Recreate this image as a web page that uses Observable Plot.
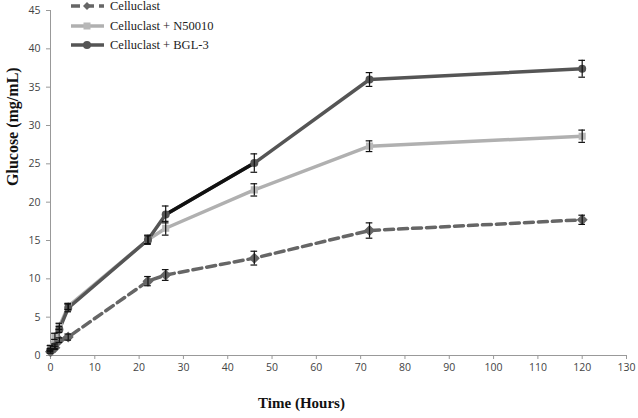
<!DOCTYPE html>
<html>
<head>
<meta charset="utf-8">
<script src="https://cdn.jsdelivr.net/npm/d3@7"></script>
<script src="https://cdn.jsdelivr.net/npm/@observablehq/plot@0.6"></script>
<style>
  html, body { margin: 0; padding: 0; background: #fff; }
  #wrap { position: relative; width: 638px; height: 418px; }
  #legend { position: absolute; left: 70px; top: 0px; font-family: "Liberation Serif", "Times New Roman", serif; font-size: 12.5px; color: #222; }
  .row { position: absolute; left: 0; height: 14px; white-space: nowrap; }
  .row svg { position: absolute; left: 0; top: 0; }
  .row span { position: absolute; left: 40px; top: 0px; line-height: 14px; }
</style>
</head>
<body>
<div id="wrap"></div>
<script>
const hours = [0, 1, 2, 4, 22, 26, 46, 72, 120];
const seriesNames = ["Celluclast", "Celluclast + N50010", "Celluclast + BGL-3"];
const celluclast    = [0.5, 1.0, 2.0, 2.4, 9.7, 10.5, 12.7, 16.3, 17.7];
const celluclastErr = [0.2, 0.2, 0.3, 0.4, 0.6, 0.7, 0.9, 1.0, 0.6];
const n50010        = [1.0, 2.5, 3.8, 6.4, 15.1, 16.6, 21.6, 27.3, 28.6];
const n50010Err     = [0.3, 0.4, 0.4, 0.4, 0.5, 0.9, 0.8, 0.7, 0.8];
const bgl3          = [0.7, 1.2, 3.4, 6.2, 15.1, 18.4, 25.1, 36.0, 37.4];
const bgl3Err       = [0.2, 0.3, 0.4, 0.5, 0.6, 1.1, 1.2, 0.9, 1.1];
const xTicks = d3.range(0, 131, 10);
const yTicks = d3.range(0, 46, 5);

const mk = (vals, errs, name) => hours.map((t, i) => ({t, v: vals[i], e: errs[i], name}));
const dC = mk(celluclast, celluclastErr, seriesNames[0]);
const dN = mk(n50010, n50010Err, seriesNames[1]);
const dB = mk(bgl3, bgl3Err, seriesNames[2]);
const all = [...dC, ...dN, ...dB];
const blackSeg = dB.filter(d => d.t >= 26 && d.t <= 46);

const tickFont = {fontFamily: "'Open Sans', 'Liberation Sans', sans-serif", fontSize: 10.5, fill: "#444"};
const capHalf = 0.75;

const chart = Plot.plot({
  width: 638,
  height: 418,
  marginLeft: 50,
  marginRight: 12,
  marginTop: 10,
  marginBottom: 63,
  style: {background: "#fff"},
  x: {domain: [0, 130]},
  y: {domain: [0, 45]},
  marks: [
    Plot.ruleY([0], {stroke: "#999", strokeWidth: 1}),
    Plot.ruleX([0], {stroke: "#999", strokeWidth: 1}),
    Plot.axisX({ticks: xTicks, tickSize: 4, stroke: "#999", tickPadding: 4, label: null, ...tickFont, color: "#444"}),
    Plot.axisY({ticks: yTicks, tickSize: 4, stroke: "#999", tickPadding: 6, label: null, ...tickFont, color: "#444"}),
    Plot.text(["Time (Hours)"], {frameAnchor: "bottom", dx: -37, dy: 52, fontFamily: "'Liberation Serif', serif", fontWeight: "bold", fontSize: 15, fill: "#111"}),
    Plot.text(["Glucose (mg/mL)"], {frameAnchor: "left", dx: -38, dy: 3, rotate: -90, fontFamily: "'Liberation Serif', serif", fontWeight: "bold", fontSize: 16, fill: "#111"}),
    Plot.line(dC, {x: "t", y: "v", stroke: "#666", strokeWidth: 3.5, strokeDasharray: "9,5"}),
    Plot.line(dN, {x: "t", y: "v", stroke: "#b0b0b0", strokeWidth: 3.5}),
    Plot.line(dB, {x: "t", y: "v", stroke: "#555", strokeWidth: 3.5}),
    Plot.line(blackSeg, {x: "t", y: "v", stroke: "#111", strokeWidth: 3.5}),
    Plot.dot(dC, {x: "t", y: "v", symbol: "diamond2", r: 4, fill: "#666", stroke: "#666"}),
    Plot.dot(dN, {x: "t", y: "v", symbol: "square2", r: 3.6, fill: "#b8b8b8", stroke: "#b8b8b8"}),
    Plot.dot(dB, {x: "t", y: "v", symbol: "circle", r: 4, fill: "#555"}),
    Plot.ruleX(all, {x: "t", y1: d => d.v - d.e, y2: d => d.v + d.e, stroke: "#111", strokeWidth: 1.2}),
    Plot.ruleY(all, {y: d => d.v - d.e, x1: d => d.t - capHalf, x2: d => d.t + capHalf, stroke: "#111", strokeWidth: 1.2}),
    Plot.ruleY(all, {y: d => d.v + d.e, x1: d => d.t - capHalf, x2: d => d.t + capHalf, stroke: "#111", strokeWidth: 1.2})
  ]
});

const wrap = document.getElementById("wrap");
wrap.appendChild(chart);

// Legend
const legend = document.createElement("div");
legend.id = "legend";
const styles = [
  {stroke: "#666", dash: "9,5", marker: "diamond", fill: "#666"},
  {stroke: "#b0b0b0", dash: null, marker: "square", fill: "#b8b8b8"},
  {stroke: "#555", dash: null, marker: "circle", fill: "#555"}
];
const rowTops = [-1, 19, 38];
seriesNames.forEach((name, i) => {
  const s = styles[i];
  const row = document.createElement("div");
  row.className = "row";
  row.style.top = rowTops[i] + "px";
  let m = "";
  if (s.marker === "diamond") m = `<path d="M17,3 L21,7 L17,11 L13,7 Z" fill="${s.fill}"/>`;
  else if (s.marker === "square") m = `<rect x="13.5" y="3.5" width="7" height="7" fill="${s.fill}"/>`;
  else m = `<circle cx="17" cy="7" r="4" fill="${s.fill}"/>`;
  row.innerHTML = `<svg width="36" height="14"><line x1="1" x2="34" y1="7" y2="7" stroke="${s.stroke}" stroke-width="3.5" ${s.dash ? `stroke-dasharray="${s.dash}"` : ""}/>${m}</svg><span>${name}</span>`;
  legend.appendChild(row);
});
wrap.appendChild(legend);
</script>
</body>
</html>
